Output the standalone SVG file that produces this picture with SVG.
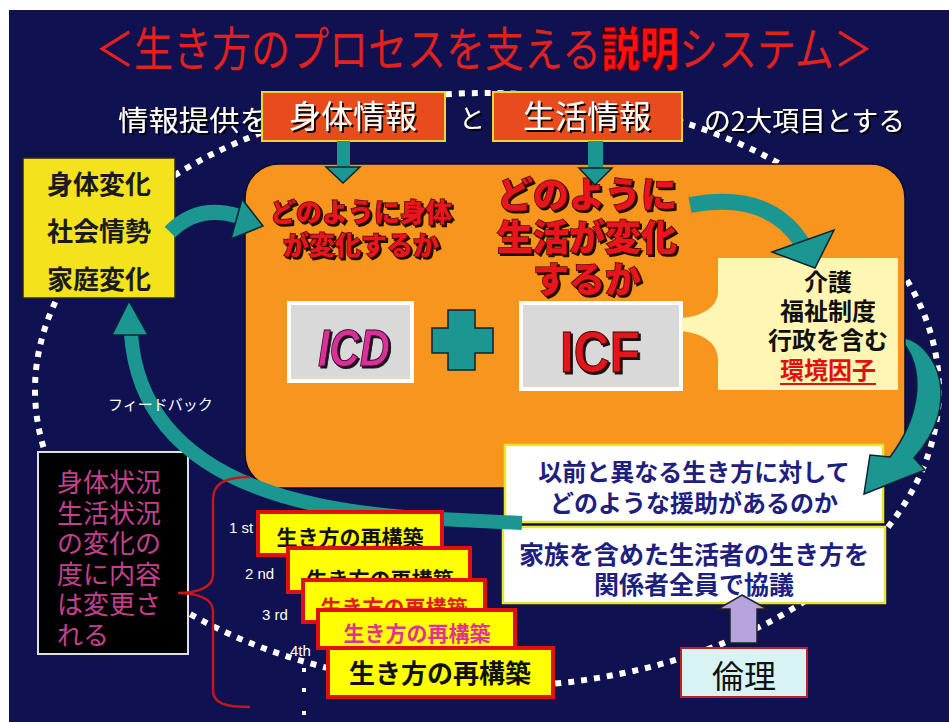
<svg xmlns="http://www.w3.org/2000/svg" width="949" height="722" viewBox="0 0 949 722">
<defs>
<style>
.jp{font-family:"Noto Sans CJK JP","Noto Sans",sans-serif}
.wt{fill:#ffffff;filter:url(#sh)}
.red3d{fill:#e8161c;stroke:#4a0606;stroke-width:1.5;paint-order:stroke fill;font-weight:900;filter:url(#sh)}
.ybox{fill:#f4e21c;stroke:#2a2a10;stroke-width:1.5}
.stk{fill:#ffff00;stroke:#e01010;stroke-width:4}
.teal{fill:#1b9690;stroke:#0a2233;stroke-width:1.5}
.tealline{fill:none;stroke:#1b9690}
.wbox{fill:#ffffff;stroke:#e6e632;stroke-width:2.5}
.navy{fill:#1e2080;font-weight:700}
.lbl{fill:#ffffff;font-family:"Liberation Sans",sans-serif;font-size:15px}
</style>
<filter id="sh" x="-10%" y="-20%" width="130%" height="150%">
<feDropShadow dx="2" dy="2" stdDeviation="0.6" flood-color="#000000" flood-opacity="0.9"/>
</filter>
</defs>

<!-- background -->
<rect width="949" height="722" fill="#ffffff"/>
<rect x="9" y="10" width="940" height="712" fill="#0f1150"/>

<!-- dotted cycle -->
<ellipse cx="487" cy="390" rx="452" ry="297" fill="none" stroke="#ffffff" stroke-width="6" stroke-dasharray="6 7"/>

<!-- title -->
<g id="title">
<text class="jp" transform="translate(95,66) scale(0.83,1)" font-size="47" fill="#e3201c">＜生き方のプロセスを支える<tspan fill="#ff1010" font-weight="900" stroke="#500" stroke-width="1">説明</tspan>システム＞</text>
</g>

<!-- top line -->
<g id="top-text">
<text class="jp wt" x="118" y="131" font-size="28" textLength="152" lengthAdjust="spacingAndGlyphs">情報提供を</text>
<text class="jp wt" x="472" y="128" font-size="26" text-anchor="middle">と</text>
<text class="jp wt" x="704" y="131" font-size="27" textLength="201" lengthAdjust="spacingAndGlyphs">の2大項目とする</text>
</g>
<g id="node-body-info">
<rect x="262" y="92" width="183" height="49" fill="#e84c1c" stroke="#e8d830" stroke-width="2"/>
<text class="jp wt" x="353" y="128" font-size="32" text-anchor="middle">身体情報</text>
</g>
<g id="node-life-info">
<rect x="493" y="92" width="189" height="49" fill="#e84c1c" stroke="#e8d830" stroke-width="2"/>
<text class="jp wt" x="587" y="128" font-size="32" text-anchor="middle">生活情報</text>
</g>

<!-- orange main area -->
<g id="node-main">
<rect x="245" y="164" width="660" height="324" rx="34" fill="#f7951d" stroke="#0a0a30" stroke-width="1.5"/>
<text class="jp red3d" x="361" y="222" font-size="26" text-anchor="middle">どのように身体</text>
<text class="jp red3d" x="361" y="255" font-size="26" text-anchor="middle">が変化するか</text>
<text class="jp red3d" x="587" y="208" font-size="36" text-anchor="middle">どのように</text>
<text class="jp red3d" x="587" y="251" font-size="36" text-anchor="middle">生活が変化</text>
<text class="jp red3d" x="587" y="293" font-size="36" text-anchor="middle">するか</text>
</g>
<g id="node-icd">
<rect x="289" y="303" width="123" height="78" fill="#d9d9d9" stroke="#ffffff" stroke-width="4"/>
<text x="354" y="366" font-family="Liberation Sans, sans-serif" font-size="52" font-weight="700" font-style="italic" text-anchor="middle" textLength="72" lengthAdjust="spacingAndGlyphs" fill="#d8329a" stroke="#3a0a2a" stroke-width="1" filter="url(#sh)">ICD</text>
</g>
<g id="node-plus">
<path class="teal" d="M448 310 h27 v18 h18 v25 h-18 v17 h-27 v-17 h-16 v-25 h16 z"/>
</g>
<g id="node-icf">
<rect x="521" y="303" width="160" height="86" fill="#d9d9d9" stroke="#ffffff" stroke-width="4"/>
<text x="600" y="372" font-family="Liberation Sans, sans-serif" font-size="58" font-weight="700" text-anchor="middle" textLength="80" lengthAdjust="spacingAndGlyphs" fill="#e3141a" stroke="#3a0606" stroke-width="1" filter="url(#sh)">ICF</text>
</g>
<g id="node-environment">
<path d="M682 318 C705 316 718 305 718 292 L718 258 L898 258 L898 390 L718 390 L718 360 C718 344 705 334 682 331 Z" fill="#fff6b3"/>
<text class="jp" x="828" y="291" font-size="24" font-weight="700" text-anchor="middle" fill="#111">介護</text>
<text class="jp" x="828" y="320" font-size="24" font-weight="700" text-anchor="middle" fill="#111">福祉制度</text>
<text class="jp" x="828" y="349" font-size="24" font-weight="700" text-anchor="middle" fill="#111">行政を含む</text>
<text class="jp" x="828" y="379" font-size="24" font-weight="700" text-anchor="middle" fill="#e31010">環境因子</text>
<line x1="780" y1="384" x2="876" y2="384" stroke="#e31010" stroke-width="2"/>
</g>

<!-- left yellow -->
<g id="node-changes">
<rect class="ybox" x="23" y="158" width="152" height="140"/>
<text class="jp" x="99" y="194" font-size="26" font-weight="700" text-anchor="middle" fill="#1a1a22">身体変化</text>
<text class="jp" x="99" y="241" font-size="26" font-weight="700" text-anchor="middle" fill="#1a1a22">社会情勢</text>
<text class="jp" x="99" y="289" font-size="26" font-weight="700" text-anchor="middle" fill="#1a1a22">家庭変化</text>
</g>

<!-- black box -->
<g id="node-status">
<rect x="38" y="452" width="150" height="202" fill="#000000" stroke="#e0e0e0" stroke-width="2"/>
<g class="jp" font-size="26" fill="#c4408c">
<text x="57" y="492">身体状況</text>
<text x="57" y="523">生活状況</text>
<text x="57" y="553">の変化の</text>
<text x="57" y="584">度に内容</text>
<text x="57" y="614">は変更さ</text>
<text x="57" y="645">れる</text>
</g>
</g>

<!-- right white boxes -->
<g id="node-support">
<rect class="wbox" x="505" y="445" width="378" height="77"/>
<text class="jp navy" x="694" y="481" font-size="24" text-anchor="middle">以前と異なる生き方に対して</text>
<text class="jp navy" x="694" y="512" font-size="24" text-anchor="middle">どのような援助があるのか</text>
</g>
<g id="node-discuss">
<rect class="wbox" x="503" y="527" width="382" height="76"/>
<text class="jp navy" x="694" y="564" font-size="25" text-anchor="middle">家族を含めた生活者の生き方を</text>
<text class="jp navy" x="694" y="594" font-size="25" text-anchor="middle">関係者全員で協議</text>
</g>
<g id="node-ethics">
<rect x="681" y="648" width="126" height="49" fill="#d8f3f3" stroke="#c02020" stroke-width="2"/>
<text class="jp" x="744" y="688" font-size="32" text-anchor="middle" fill="#111">倫理</text>
</g>

<!-- connectors -->
<g id="connectors">
<!-- feedback -->
<path class="tealline" d="M522 523 L440 519 C260 512 140 460 131 334" stroke-width="14"/>
<polygon class="teal" points="129,301 148,335 112,335"/>
<!-- changes -> main -->
<path class="tealline" d="M170 232 Q198 204 238 216" stroke-width="15"/>
<polygon class="teal" points="263,226 242,199 231,239"/>
<!-- info boxes down -->
<rect x="337" y="141" width="13" height="27" fill="#1b9690"/>
<polygon class="teal" points="326,167 360,167 343,183"/>
<rect x="588" y="141" width="15" height="28" fill="#1b9690"/>
<polygon class="teal" points="579,168 612,168 595,185"/>
<!-- life change -> environment -->
<path class="tealline" d="M690 205 Q768 190 802 243" stroke-width="16"/>
<polygon class="teal" points="815,268 772,252 834,230"/>
<!-- main -> support -->
<path class="teal" d="M905 338 C938 346 962 405 914 458 L925 470 L864 494 L870 455 L890 457 C918 420 926 375 905 345 Z"/>
<!-- ethics -> discuss -->
<polygon points="742,595 767,609 757,609 757,643 730,643 730,609 718,609" fill="#b6a4de" stroke="#222" stroke-width="1.5"/>
<!-- brace -->
<path d="M250 477 C222 477 213 485 213 500 L213 575 C213 588 196 593 178 593 C196 593 213 598 213 611 L213 690 C213 703 224 707 250 707" fill="none" stroke="#c41818" stroke-width="2.5"/>
</g>

<!-- stacked reconstruction boxes -->
<g id="node-step1">
<rect class="stk" x="258" y="512" width="184" height="43"/>
<text class="jp" x="350" y="545" font-size="21" font-weight="700" text-anchor="middle" fill="#111">生き方の再構築</text>
</g>
<g id="node-step2">
<rect class="stk" x="288" y="548" width="182" height="44"/>
<text class="jp" x="380" y="587" font-size="21" font-weight="700" text-anchor="middle" fill="#111">生き方の再構築</text>
</g>
<g id="node-step3">
<rect class="stk" x="303" y="580" width="182" height="42"/>
<text class="jp" x="394" y="615" font-size="21" font-weight="700" text-anchor="middle" fill="#e02020">生き方の再構築</text>
</g>
<g id="node-step4">
<rect class="stk" x="318" y="610" width="197" height="38"/>
<text class="jp" x="417" y="641" font-size="21" font-weight="700" text-anchor="middle" fill="#e0348c">生き方の再構築</text>
</g>
<g id="node-step5">
<rect class="stk" x="328" y="648" width="225" height="49"/>
<text class="jp" x="440" y="683" font-size="26" font-weight="700" text-anchor="middle" fill="#111">生き方の再構築</text>
</g>
<g id="step-labels">
<text class="lbl" x="229" y="533">1 st</text>
<text class="lbl" x="245" y="579">2 nd</text>
<text class="lbl" x="262" y="620">3 rd</text>
<text class="lbl" x="290" y="656">4th</text>
<rect x="302" y="668" width="4" height="4" fill="#fff"/>
<rect x="302" y="688" width="4" height="4" fill="#fff"/>
<rect x="302" y="711" width="4" height="4" fill="#fff"/>
<text class="jp" x="108" y="410" font-size="15" fill="#ffffff">フィードバック</text>
</g>
</svg>
